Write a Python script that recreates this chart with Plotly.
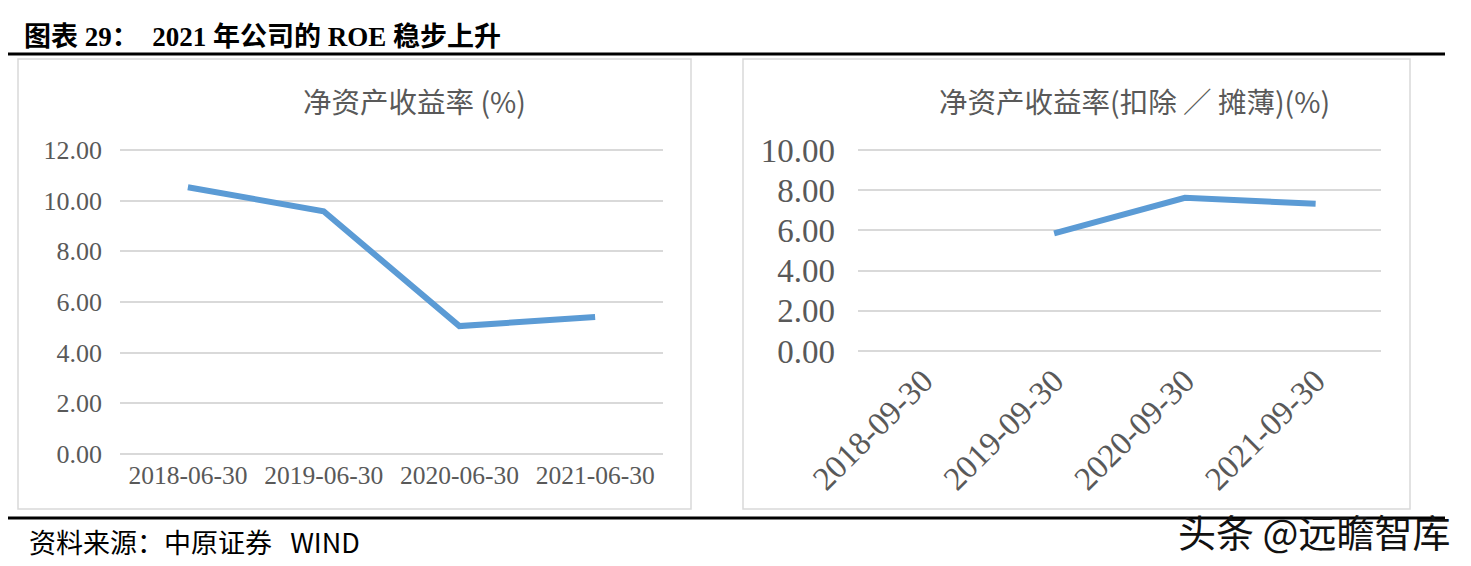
import plotly.graph_objects as go

W, H = 1471, 566
OFF = 8  # page body margin offset compensation

# Data
cats_left = ["2018-06-30", "2019-06-30", "2020-06-30", "2021-06-30"]
roe_left = [10.53, 9.58, 5.05, 5.41]
cats_right = ["2018-09-30", "2019-09-30", "2020-09-30", "2021-09-30"]
roe_right = [None, 5.85, 7.62, 7.33]
yticks_left = [0, 2, 4, 6, 8, 10, 12]
yticks_right = [0, 2, 4, 6, 8, 10]

title_text = "图表 29：  2021 年公司的 ROE 稳步上升"
left_title = "净资产收益率 (%)"
right_title = "净资产收益率(扣除 ／ 摊薄)(%)"
source_text = "资料来源：中原证券   WIND"
watermark = "头条 @远瞻智库"

def px(x):
    return (x - OFF) / W

def py(y):
    return 1 - (y - OFF) / H

SERIF = "Liberation Serif, Noto Sans CJK SC"
CJK = "Noto Sans CJK SC, Liberation Serif"
GRAY = "#595959"
BLUE = "#5B9BD5"

fig = go.Figure()
fig.add_trace(go.Scatter(x=cats_left, y=roe_left, mode="lines",
                         line=dict(color=BLUE, width=6), xaxis="x", yaxis="y",
                         showlegend=False, hoverinfo="x+y"))
fig.add_trace(go.Scatter(x=cats_right, y=roe_right, mode="lines",
                         line=dict(color=BLUE, width=6), xaxis="x2", yaxis="y2",
                         showlegend=False, hoverinfo="x+y", connectgaps=False))

# Left axes: 0 at y=454, 12 at y=150
l_unit = (454 - 150) / 12.0
l_lo, l_hi = -0.15, 12.15
fig.update_layout(
    xaxis=dict(domain=[px(120), px(663)], type="category", range=[-0.5, 3.5],
               showgrid=False, zeroline=False, showline=False, ticks="",
               automargin=False,
               tickfont=dict(family=SERIF, size=25.5, color=GRAY), anchor="y"),
    yaxis=dict(domain=[py(454 - l_lo * l_unit), py(150 - (l_hi - 12) * l_unit)],
               range=[l_lo, l_hi], tickvals=yticks_left, tickformat=".2f",
               showgrid=True, gridcolor="#D9D9D9", gridwidth=2, zeroline=False,
               showline=False, ticks="", ticklabelstandoff=17, automargin=False,
               tickfont=dict(family=SERIF, size=26, color=GRAY), anchor="x"),
)

# Right axes: 0 at y=351, 10 at y=150
r_unit = (351 - 150) / 10.0
r_lo, r_hi = -0.15, 10.15
fig.update_layout(
    xaxis2=dict(domain=[px(858), px(1381)], type="category", range=[-0.5, 3.5],
                showgrid=False, zeroline=False, showline=False, ticks="",
                tickangle=-45, categoryorder="array", categoryarray=cats_right,
                automargin=False,
                tickfont=dict(family=SERIF, size=33, color=GRAY), anchor="y2"),
    yaxis2=dict(domain=[py(351 - r_lo * r_unit), py(150 - (r_hi - 10) * r_unit)],
                range=[r_lo, r_hi], tickvals=yticks_right, tickformat=".2f",
                showgrid=True, gridcolor="#D9D9D9", gridwidth=2, zeroline=False,
                showline=False, ticks="", ticklabelstandoff=22, automargin=False,
                tickfont=dict(family=SERIF, size=33, color=GRAY), anchor="x2"),
)

shapes = [
    # rules
    dict(type="line", xref="paper", yref="paper", x0=px(8), x1=px(1445), y0=py(54), y1=py(54),
         line=dict(color="black", width=3)),
    dict(type="line", xref="paper", yref="paper", x0=px(8), x1=px(1445), y0=py(518), y1=py(518),
         line=dict(color="black", width=3)),
    # panel boxes
    dict(type="rect", xref="paper", yref="paper", x0=px(18), x1=px(691), y0=py(59), y1=py(509),
         line=dict(color="#D9D9D9", width=1.5)),
    dict(type="rect", xref="paper", yref="paper", x0=px(743), x1=px(1410), y0=py(59), y1=py(509),
         line=dict(color="#D9D9D9", width=1.5)),
]

annotations = [
    dict(text=title_text, x=px(22), y=py(37), xref="paper", yref="paper", xanchor="left",
         yanchor="middle", showarrow=False,
         font=dict(family="Liberation Serif, Noto Sans CJK SC", size=27, color="black", weight="bold")),
    dict(text=left_title, x=px(414), y=py(100), xref="paper", yref="paper", xanchor="center",
         yanchor="middle", showarrow=False, font=dict(family=CJK, size=28.5, color=GRAY)),
    dict(text=right_title, x=px(1134), y=py(100), xref="paper", yref="paper", xanchor="center",
         yanchor="middle", showarrow=False, font=dict(family=CJK, size=28.5, color=GRAY)),
    dict(text=source_text, x=px(27), y=py(541), xref="paper", yref="paper", xanchor="left",
         yanchor="middle", showarrow=False, font=dict(family=CJK, size=27, color="black")),
    dict(text=watermark, x=px(1452), y=py(530), xref="paper", yref="paper", xanchor="right",
         yanchor="middle", showarrow=False, font=dict(family="Noto Sans CJK SC", size=38, color="#111111")),
]

fig.update_layout(
    template="none",
    width=W, height=H, margin=dict(l=0, r=0, t=0, b=0, pad=0, autoexpand=False),
    paper_bgcolor="white", plot_bgcolor="white",
    shapes=shapes, annotations=annotations, showlegend=False,
)

fig.write_html("out.html")
